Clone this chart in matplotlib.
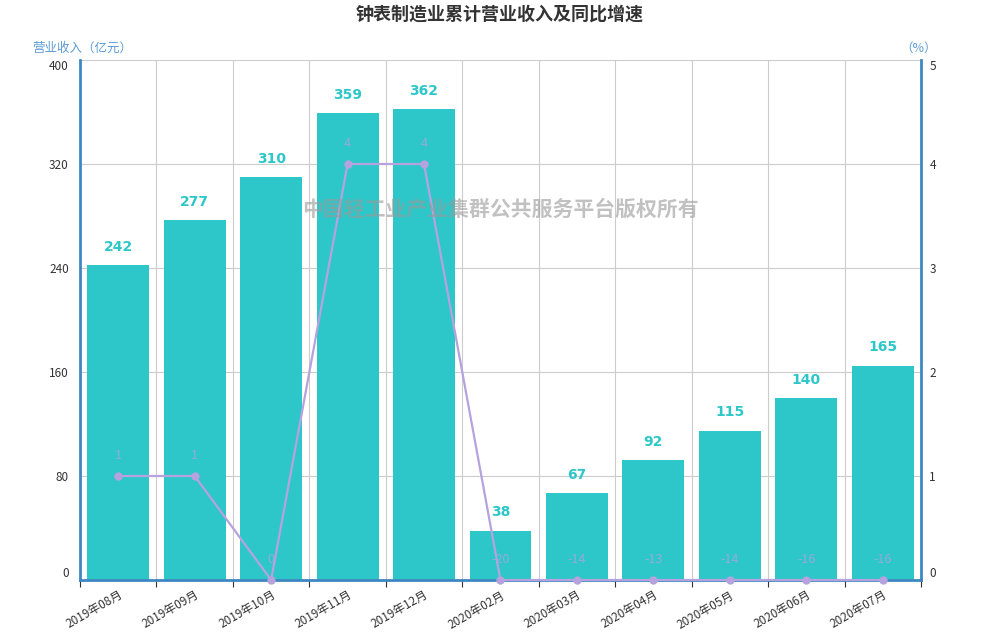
import matplotlib
matplotlib.use("Agg")
import matplotlib.pyplot as plt
import numpy as np

plt.rcParams["font.family"] = ["Noto Sans CJK SC", "DejaVu Sans"]

# data
months = ["2019年08月", "2019年09月", "2019年10月", "2019年11月", "2019年12月",
          "2020年02月", "2020年03月", "2020年04月", "2020年05月", "2020年06月", "2020年07月"]
revenue = [242, 277, 310, 359, 362, 38, 67, 92, 115, 140, 165]
growth = [1, 1, 0, 4, 4, -20, -14, -13, -14, -16, -16]

BAR_COLOR = "#2ec7c9"
LINE_COLOR = "#b6a2de"
AXIS_COLOR = "#3f87c2"
NAME_COLOR = "#5b9bd5"
GRID_COLOR = "#cccccc"
TEXT_COLOR = "#333333"

fig = plt.figure(figsize=(10, 6.4), dpi=100)
ax = fig.add_axes([0.08, 0.09375, 0.841, 0.8125])
ax2 = ax.twinx()

x = np.arange(len(months))
ax.bar(x, revenue, width=0.81, color=BAR_COLOR, zorder=2)
for xi, v in zip(x, revenue):
    ax.annotate(str(v), (xi, v), xytext=(0, 8), textcoords="offset points",
                ha="center", va="bottom", color=BAR_COLOR, fontsize=10,
                fontweight="bold", family="DejaVu Sans", zorder=5)

ax.set_xlim(-0.5, len(months) - 0.5)
ax.set_ylim(0, 400)
ax.set_yticks(np.arange(0, 401, 80))
ax.set_xticks(np.arange(-0.5, len(months), 1.0))
ax.set_xticklabels([])
ax.set_xticks(x, minor=True)
ax.set_xticklabels(months, minor=True, rotation=30, ha="right",
                   rotation_mode="anchor", fontsize=8.5, color=TEXT_COLOR)
ax.tick_params(axis="x", which="major", length=5, color=TEXT_COLOR, direction="out")
ax.tick_params(axis="x", which="minor", length=0, pad=6)
ax.tick_params(axis="y", length=0, labelsize=8.5, labelcolor=TEXT_COLOR, pad=8)
ax.grid(True, which="major", color=GRID_COLOR, linewidth=0.8, zorder=0)
ax.set_axisbelow(True)

for side in ["left", "bottom"]:
    ax.spines[side].set_color(AXIS_COLOR)
    ax.spines[side].set_linewidth(2)
ax.spines["top"].set_visible(False)
ax.spines["right"].set_visible(False)

# growth line on right axis, negatives shown at the axis floor
shown = np.clip(growth, 0, None)
ax2.plot(x, shown, color=LINE_COLOR, linewidth=1.6, marker="o", markersize=5,
         clip_on=False, zorder=4)
for xi, yv, v in zip(x, shown, growth):
    ax2.annotate(str(v), (xi, yv), xytext=(0, 10), textcoords="offset points",
                 ha="center", va="bottom", color=LINE_COLOR, alpha=0.75,
                 fontsize=9, zorder=5)
ax2.set_ylim(0, 5)
ax2.set_yticks(range(0, 6))
ax2.tick_params(axis="y", length=0, labelsize=8.5, labelcolor=TEXT_COLOR, pad=6)
ax2.spines["right"].set_color(AXIS_COLOR)
ax2.spines["right"].set_linewidth(2)
for side in ["left", "top", "bottom"]:
    ax2.spines[side].set_visible(False)

# end labels sit inside the axis range, as in the original
for a in (ax, ax2):
    labels = a.get_yticklabels()
    labels[0].set_va("bottom")
    labels[-1].set_va("top")

fig.text(0.5, 0.978, "钟表制造业累计营业收入及同比增速", ha="center", va="center",
         fontsize=13, fontweight="bold", color=TEXT_COLOR)
fig.text(0.032, 0.925, "营业收入（亿元）", ha="left", va="center",
         fontsize=9, color=NAME_COLOR)
fig.text(0.937, 0.925, "（%）", ha="right", va="center",
         fontsize=9, color=NAME_COLOR)
fig.text(0.5, 1 - 209 / 640, "中国轻工业产业集群公共服务平台版权所有", ha="center",
         va="center", fontsize=15, fontweight="bold", color="#999999", alpha=0.6,
         zorder=10)

fig.savefig("out.png", dpi=100)
